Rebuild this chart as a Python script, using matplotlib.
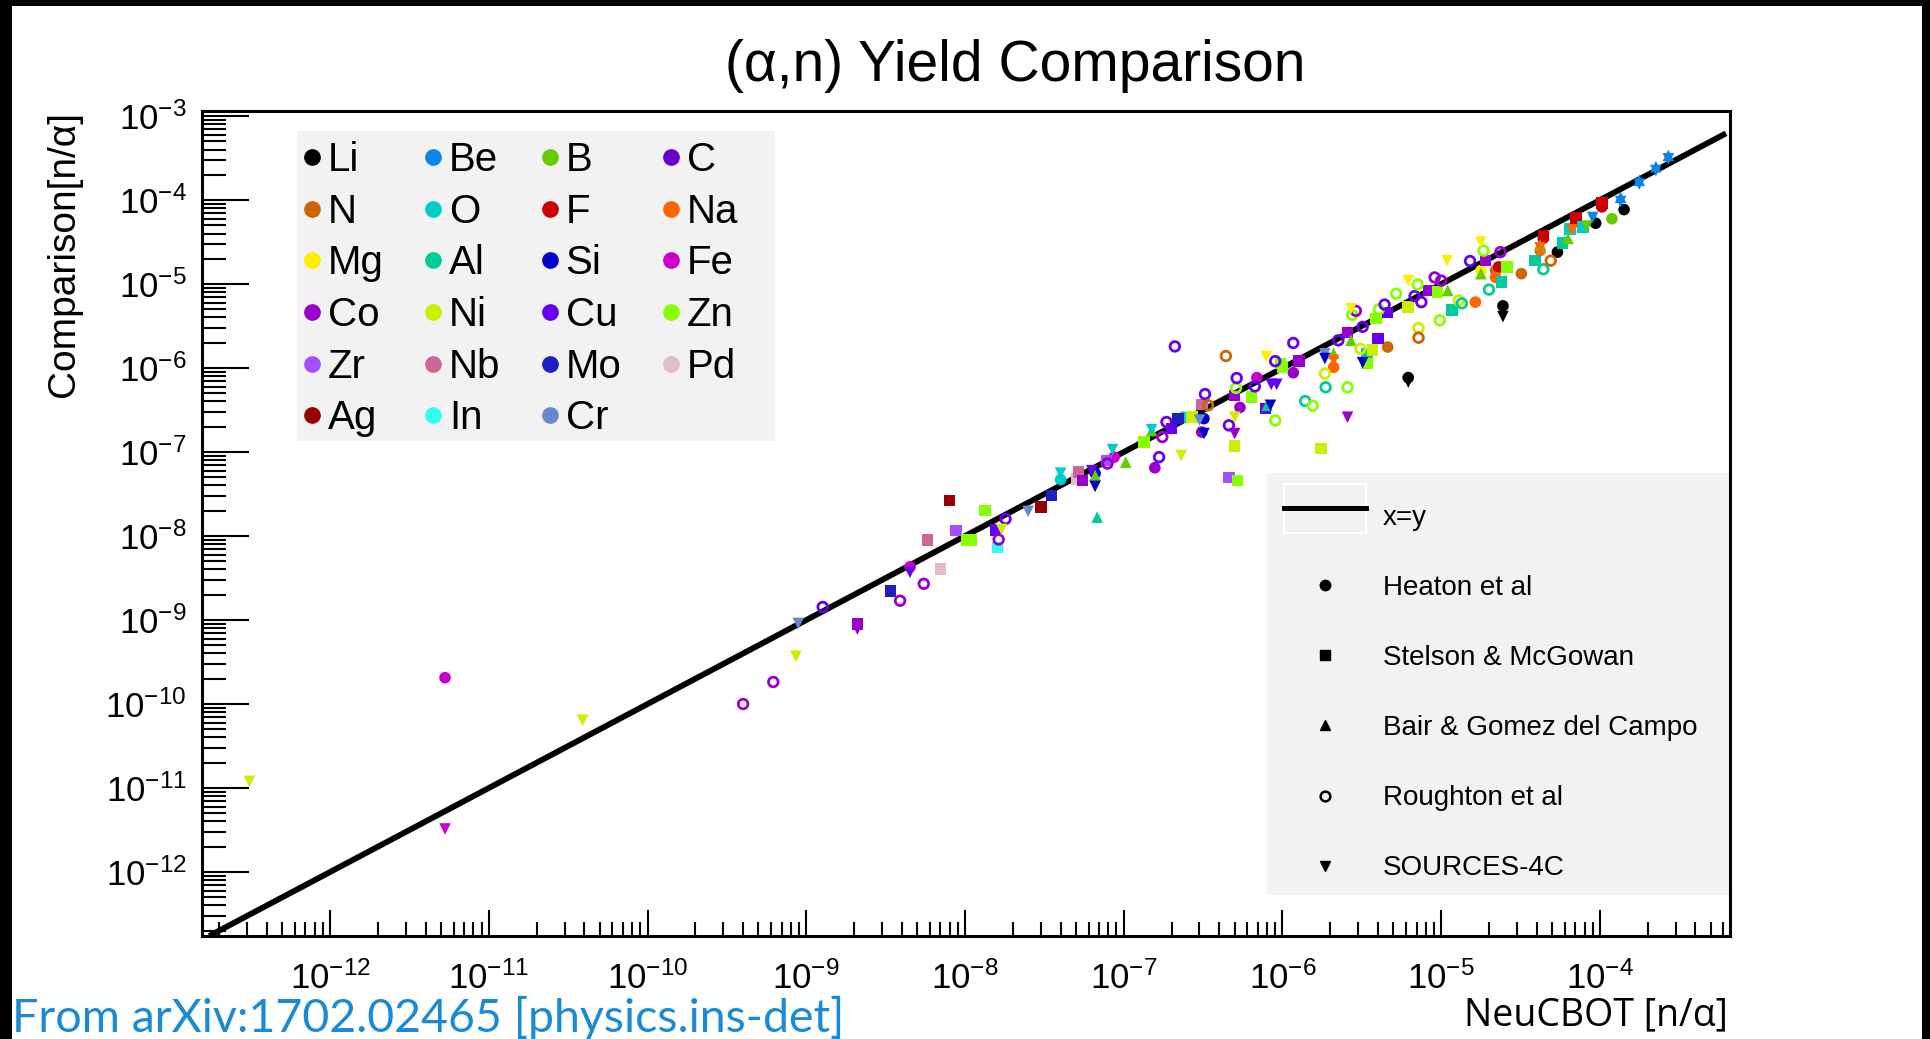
import numpy as np
import matplotlib.pyplot as plt
from matplotlib.lines import Line2D
from matplotlib.patches import Rectangle
from matplotlib.ticker import LogLocator, FuncFormatter, NullFormatter

plt.rcParams['font.family'] = ['Liberation Sans', 'DejaVu Sans']
plt.rcParams['mathtext.default'] = 'regular'

# element colours (ROOT palette)
element_colors = {
    'Li': '#000000', 'Be': '#0b86e8', 'B': '#66cc00', 'C': '#6600cc',
    'N': '#cc6600', 'O': '#00cccc', 'F': '#cc0000', 'Na': '#ff6600',
    'Mg': '#ffee00', 'Al': '#00cc99', 'Si': '#0000cc', 'Fe': '#cc00cc',
    'Co': '#9900cc', 'Ni': '#ccee00', 'Cu': '#6600ee', 'Zn': '#88ff00',
    'Zr': '#a64dff', 'Nb': '#cc6699', 'Mo': '#1f1fbf', 'Pd': '#e0bccc',
    'Ag': '#990000', 'In': '#33ffee', 'Cr': '#6688cc',
}
elements = ['Li', 'Be', 'B', 'C', 'N', 'O', 'F', 'Na', 'Mg', 'Al', 'Si', 'Fe',
            'Co', 'Ni', 'Cu', 'Zn', 'Zr', 'Nb', 'Mo', 'Pd', 'Ag', 'In', 'Cr']

# (element, NeuCBOT yield, measured/other yield)  [n/alpha]
heaton = [
    ('Fe', 5.3e-12, 2.06e-10), ('Fe', 4.5e-9, 4.3e-9), ('O', 4.0e-8, 4.7e-8),
    ('Si', 6.6e-8, 5.6e-8), ('Fe', 8.7e-8, 8.7e-8), ('Co', 1.57e-7, 6.5e-8),
    ('O', 2.37e-7, 2.6e-7), ('Si', 3.2e-7, 2.5e-7), ('Co', 3.1e-7, 1.73e-7),
    ('Co', 5.4e-7, 3.4e-7), ('Fe', 6.9e-7, 7.7e-7), ('Co', 1.17e-6, 8.8e-7),
    ('Na', 2.1e-6, 1.02e-6), ('N', 4.6e-6, 1.78e-6), ('Li', 6.2e-6, 7.7e-7),
    ('Na', 1.64e-5, 6.1e-6), ('Mg', 1.78e-5, 1.45e-5), ('N', 2.2e-5, 1.45e-5),
    ('F', 2.3e-5, 1.6e-5), ('Na', 2.2e-5, 1.2e-5), ('Li', 2.45e-5, 5.5e-6),
    ('N', 3.2e-5, 1.33e-5), ('Na', 4.2e-5, 2.5e-5), ('F', 4.4e-5, 3.5e-5),
    ('Li', 5.4e-5, 2.4e-5), ('F', 7.1e-5, 5.6e-5), ('Li', 9.4e-5, 5.3e-5),
    ('F', 1.03e-4, 8.3e-5), ('B', 1.19e-4, 6.0e-5), ('Li', 1.42e-4, 7.7e-5),
]
stelson = [
    ('Co', 2.1e-9, 8.9e-10), ('Mo', 3.4e-9, 2.2e-9), ('Nb', 5.8e-9, 8.9e-9),
    ('Pd', 7.0e-9, 4.05e-9), ('Ag', 8.0e-9, 2.66e-8), ('Zr', 8.8e-9, 1.17e-8),
    ('Zn', 1.03e-8, 9.0e-9), ('Zn', 1.1e-8, 9.0e-9), ('Zn', 1.34e-8, 2.02e-8),
    ('Cu', 1.56e-8, 1.19e-8), ('In', 1.6e-8, 7.3e-9), ('Ag', 3.0e-8, 2.2e-8),
    ('Mo', 3.5e-8, 3.05e-8), ('Pd', 5.1e-8, 4.8e-8), ('Nb', 5.2e-8, 5.8e-8),
    ('Co', 5.5e-8, 4.6e-8), ('Zr', 7.8e-8, 7.9e-8), ('Zn', 1.34e-7, 1.31e-7),
    ('Cu', 2.0e-7, 1.9e-7), ('Mo', 2.2e-7, 2.5e-7), ('Ni', 2.7e-7, 2.6e-7),
    ('Nb', 3.1e-7, 3.7e-7), ('Zr', 4.6e-7, 5.0e-8), ('Co', 5.0e-7, 4.7e-7),
    ('Ni', 5.0e-7, 1.18e-7), ('Zn', 5.2e-7, 4.6e-8), ('Zn', 6.4e-7, 4.5e-7),
    ('Cu', 7.8e-7, 3.3e-7), ('Zn', 9.7e-7, 1.13e-6), ('Zn', 1.0e-6, 1.03e-6),
    ('Co', 1.27e-6, 1.21e-6), ('Ni', 1.75e-6, 1.1e-7), ('Co', 2.57e-6, 2.64e-6),
    ('Al', 3.4e-6, 1.48e-6), ('Zn', 3.4e-6, 1.13e-6), ('Ni', 3.7e-6, 1.63e-6),
    ('Zn', 3.9e-6, 3.9e-6), ('Cu', 4.0e-6, 2.24e-6), ('Cu', 4.6e-6, 4.6e-6),
    ('Ni', 6.2e-6, 5.3e-6), ('Co', 8.4e-6, 8.4e-6), ('Zn', 9.5e-6, 8.0e-6),
    ('Al', 1.17e-5, 4.9e-6), ('Co', 1.9e-5, 1.9e-5), ('Al', 2.4e-5, 1.06e-5),
    ('Zn', 2.6e-5, 1.6e-5), ('Al', 3.9e-5, 1.9e-5), ('F', 4.4e-5, 3.8e-5),
    ('Al', 5.8e-5, 3.1e-5), ('O', 6.5e-5, 4.5e-5), ('F', 7.1e-5, 6.1e-5),
    ('O', 7.8e-5, 4.8e-5), ('F', 1.03e-4, 9.2e-5),
]
bair = [
    ('B', 6.6e-8, 5.3e-8), ('Al', 6.8e-8, 1.68e-8), ('B', 1.03e-7, 7.6e-8),
    ('B', 1.5e-7, 1.8e-7), ('Al', 8.0e-7, 3.6e-7), ('B', 2.1e-6, 1.5e-6),
    ('B', 2.7e-6, 2.14e-6), ('B', 1.1e-5, 8.4e-6), ('B', 1.78e-5, 1.33e-5),
    ('B', 4.2e-5, 2.9e-5), ('B', 6.3e-5, 3.5e-5), ('Be', 1.35e-4, 1.08e-4),
    ('Be', 1.77e-4, 1.72e-4), ('Be', 2.25e-4, 2.5e-4), ('Be', 2.7e-4, 3.4e-4),
]
roughton = [
    ('Co', 4.0e-10, 1.0e-10), ('Co', 6.2e-10, 1.83e-10), ('Cu', 1.27e-9, 1.43e-9),
    ('Co', 3.9e-9, 1.7e-9), ('Co', 5.5e-9, 2.7e-9), ('Co', 1.63e-8, 9.1e-9),
    ('Cu', 1.8e-8, 1.6e-8), ('Co', 7.9e-8, 7.3e-8), ('Cu', 1.67e-7, 8.7e-8),
    ('Co', 1.75e-7, 1.51e-7), ('Cu', 1.86e-7, 2.28e-7), ('Cu', 2.1e-7, 1.81e-6),
    ('Cu', 3.25e-7, 4.9e-7), ('N', 3.4e-7, 3.6e-7), ('N', 4.4e-7, 1.39e-6),
    ('Cu', 4.6e-7, 2.08e-7), ('Zn', 5.1e-7, 5.8e-7), ('Cu', 5.15e-7, 7.6e-7),
    ('Cu', 6.7e-7, 6.05e-7), ('Cu', 9.0e-7, 1.21e-6), ('Zn', 9.0e-7, 2.38e-7),
    ('Cu', 1.17e-6, 1.99e-6), ('Al', 1.39e-6, 4.05e-7), ('Zn', 1.55e-6, 3.56e-7),
    ('Ni', 1.85e-6, 8.6e-7), ('Al', 1.87e-6, 5.9e-7), ('Cu', 2.25e-6, 2.14e-6),
    ('Zn', 2.57e-6, 5.9e-7), ('Zn', 2.75e-6, 4.3e-6), ('Co', 2.9e-6, 4.8e-6),
    ('Ni', 3.1e-6, 1.7e-6), ('Cu', 3.2e-6, 3.1e-6), ('Zn', 4.05e-6, 5.0e-6),
    ('Cu', 4.4e-6, 5.7e-6), ('Zn', 5.2e-6, 7.7e-6), ('Cu', 6.8e-6, 7.2e-6),
    ('Zn', 7.1e-6, 9.9e-6), ('Ni', 7.2e-6, 3.0e-6), ('N', 7.2e-6, 2.3e-6),
    ('Cu', 7.5e-6, 6.1e-6), ('Co', 9.1e-6, 1.2e-5), ('Zn', 9.8e-6, 3.7e-6),
    ('Co', 1.0e-5, 1.1e-5), ('Ni', 1.29e-5, 6.4e-6), ('Al', 1.35e-5, 5.9e-6),
    ('Cu', 1.52e-5, 1.88e-5), ('Zn', 1.85e-5, 2.5e-5), ('Al', 2.0e-5, 8.6e-6),
    ('Co', 2.36e-5, 2.4e-5), ('Al', 4.4e-5, 1.5e-5), ('N', 4.9e-5, 1.9e-5),
]
sources = [
    ('Ni', 3.1e-13, 1.2e-11), ('Fe', 5.3e-12, 3.25e-12), ('Ni', 3.9e-11, 6.4e-11),
    ('Ni', 8.6e-10, 3.7e-10), ('Cr', 8.9e-10, 9.1e-10), ('Co', 2.1e-9, 7.8e-10),
    ('Cu', 4.5e-9, 3.7e-9), ('Ni', 1.7e-8, 1.2e-8), ('Cr', 2.5e-8, 1.97e-8),
    ('O', 4.0e-8, 5.6e-8), ('Cu', 6.3e-8, 6.0e-8), ('Si', 6.6e-8, 3.9e-8),
    ('O', 8.5e-8, 1.07e-7), ('O', 1.5e-7, 1.85e-7), ('Ni', 2.3e-7, 9.1e-8),
    ('Cr', 3.0e-7, 2.4e-7), ('Si', 3.2e-7, 1.66e-7), ('Co', 5.0e-7, 1.66e-7),
    ('Ni', 5.0e-7, 2.6e-7), ('Mg', 7.9e-7, 1.38e-6), ('Si', 8.4e-7, 3.6e-7),
    ('Cu', 8.5e-7, 6.4e-7), ('Cu', 9.2e-7, 6.4e-7), ('Cr', 1.85e-6, 1.48e-6),
    ('Si', 1.85e-6, 1.3e-6), ('Na', 2.1e-6, 1.23e-6), ('Co', 2.57e-6, 2.6e-7),
    ('Mg', 2.7e-6, 5.1e-6), ('Si', 3.2e-6, 1.16e-6), ('Mg', 6.2e-6, 1.1e-5),
    ('Li', 6.2e-6, 6.8e-7), ('Mg', 1.09e-5, 1.9e-5), ('Mg', 1.78e-5, 3.16e-5),
    ('Li', 2.45e-5, 4.1e-6), ('Na', 4.2e-5, 2.7e-5), ('Na', 6.7e-5, 4.4e-5),
    ('B', 8.3e-5, 4.9e-5), ('Be', 9.0e-5, 6.2e-5), ('Be', 1.35e-4, 9.6e-5),
    ('Be', 1.77e-4, 1.55e-4), ('Be', 2.25e-4, 2.25e-4), ('Be', 2.7e-4, 3.1e-4),
]
diag_range = [1.8e-13, 6.0e-4]

W, H = 1931, 1039


def fx(px):
    return px / W


def fy(py):
    return 1 - py / H


fig = plt.figure(figsize=(W / 100, H / 100), dpi=100, facecolor='black')
# white page inside the dark screenshot border
fig.patches.append(Rectangle((fx(12), 0), fx(1922) - fx(12), fy(6),
                             transform=fig.transFigure, facecolor='white',
                             edgecolor='none', zorder=-5))

ax = fig.add_axes([fx(202), fy(936), fx(1730) - fx(202), fy(111) - fy(936)])
ax.set_xscale('log')
ax.set_yscale('log')
ax.set_xlim(1.56e-13, 6.6e-4)
ax.set_ylim(1.73e-13, 1.15e-3)

fmt = FuncFormatter(lambda v, p: f'$10^{{{int(round(np.log10(v)))}}}$')
for axis in (ax.xaxis, ax.yaxis):
    axis.set_major_locator(LogLocator(base=10, numticks=30))
    axis.set_minor_locator(LogLocator(base=10, subs=np.arange(2, 10), numticks=30))
    axis.set_major_formatter(fmt)
    axis.set_minor_formatter(NullFormatter())

ax.tick_params(which='both', direction='in', top=False, right=False,
               width=1.5, labelsize=25)
ax.tick_params(axis='x', which='major', length=19, pad=18)
ax.tick_params(axis='x', which='minor', length=10)
ax.tick_params(axis='y', which='major', length=34, pad=11)
ax.tick_params(axis='y', which='minor', length=17)
for s in ax.spines.values():
    s.set_linewidth(2.2)

# x = y reference
ax.plot(diag_range, diag_range, color='black', lw=4.2, zorder=2)

# data sets
series = [
    (heaton, 'o', True, 'Heaton et al'),
    (stelson, 's', True, 'Stelson & McGowan'),
    (bair, '^', True, 'Bair & Gomez del Campo'),
    (roughton, 'o', False, 'Roughton et al'),
    (sources, 'v', True, 'SOURCES-4C'),
]
for data, mk, filled, name in series:
    els = [d[0] for d in data]
    xs = [d[1] for d in data]
    ys = [d[2] for d in data]
    cols = [element_colors[e] for e in els]
    if filled:
        ax.scatter(xs, ys, s=70, marker=mk, c=cols, linewidths=0, zorder=3)
    else:
        ax.scatter(xs, ys, s=48, marker=mk, facecolors='none', edgecolors=cols,
                   linewidths=2.0, zorder=3)

# legend backgrounds
ax.add_patch(Rectangle((fx(297), fy(441)), fx(775) - fx(297), fy(131) - fy(441),
                       transform=fig.transFigure, facecolor='#f2f2f2',
                       edgecolor='none', zorder=1))
ax.add_patch(Rectangle((fx(1267), fy(895)), fx(1729) - fx(1267), fy(473) - fy(895),
                       transform=fig.transFigure, facecolor='#f2f2f2',
                       edgecolor='none', zorder=1))
ax.add_patch(Rectangle((fx(1284), fy(533)), fx(1366) - fx(1284), fy(484) - fy(533),
                       transform=fig.transFigure, facecolor='none',
                       edgecolor='white', lw=1.5, zorder=1.1))

# element legend, laid out row by row like the original
order = [e for c in range(4) for e in elements[c::4]]
h1 = [Line2D([], [], ls='none', marker='o', ms=11, color=element_colors[e]) for e in order]
fig.legend(h1, order, loc='upper left', bbox_to_anchor=(fx(303.6), fy(141)),
           ncols=4, frameon=False, borderpad=0, borderaxespad=0, fontsize=29,
           handlelength=0.42, handletextpad=0.18, columnspacing=1.02,
           labelspacing=0.34)

# data set legend (the x=y sample line is drawn separately, a little above its text)
fig.add_artist(Line2D([fx(1284), fx(1366)], [fy(508), fy(508)],
                      transform=fig.transFigure, color='black', lw=3.6))
h2 = [Line2D([], [], color='none', lw=0),
      Line2D([], [], ls='none', marker='o', ms=7.5, color='black'),
      Line2D([], [], ls='none', marker='s', ms=7, color='black'),
      Line2D([], [], ls='none', marker='^', ms=7, color='black'),
      Line2D([], [], ls='none', marker='o', ms=7, mfc='none', mew=1.8, color='black'),
      Line2D([], [], ls='none', marker='v', ms=7, color='black')]
l2 = ['x=y'] + [s[3] for s in series]
fig.legend(h2, l2, loc='upper left', bbox_to_anchor=(fx(1284), fy(504.6)),
           frameon=False, borderpad=0, borderaxespad=0, fontsize=20,
           handlelength=2.95, handletextpad=0.61, labelspacing=1.59)

# titles and labels
fig.text(fx(1015), fy(81), '(\u03b1,n) Yield Comparison', ha='center',
         va='baseline', fontsize=41)
fig.text(fx(74), fy(111), 'Comparison[n/\u03b1]', rotation=90,
         rotation_mode='anchor', ha='right', va='baseline', fontsize=28)
fig.text(fx(1728), fy(1025), 'NeuCBOT [n/\u03b1]', ha='right', va='baseline',
         fontsize=27, family=['Open Sans', 'DejaVu Sans'])
fig.text(fx(12), fy(1032), 'From arXiv:1702.02465 [physics.ins-det]',
         ha='left', va='baseline', fontsize=33.5, color='#1a8ad4',
         family=['Lato', 'DejaVu Sans'], fontweight='normal')

fig.savefig('out.png', dpi=100, facecolor=fig.get_facecolor())
